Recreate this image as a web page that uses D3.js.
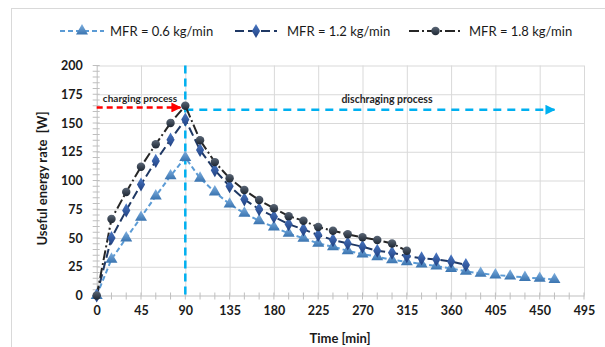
<!DOCTYPE html>
<html>
<head>
<meta charset="utf-8">
<script src="https://cdn.jsdelivr.net/npm/d3@7/dist/d3.min.js"></script>
<style>
  html, body { margin: 0; padding: 0; background: #ffffff; }
  svg { display: block; font-family: Lato, "Open Sans", sans-serif; }
</style>
</head>
<body>
<svg id="chart" width="605" height="347"></svg>
<script>
// Time axis (min) for each series, sampled every 15 min
const timeLow  = d3.range(0, 466, 15);   // 0 .. 465
const timeMid  = d3.range(0, 376, 15);   // 0 .. 375
const timeHigh = d3.range(0, 316, 15);   // 0 .. 315

// Useful energy rate [W]
const rateLow = [0, 31.5, 50, 68, 86.5, 104, 120,
  102, 90, 79.5, 71.5, 65, 59.5, 54, 49.7, 45.3,
  42.4, 38.9, 36, 33.7, 31, 29.3, 27.3, 25.6, 23.5,
  21, 19.2, 17.8, 16.9, 15.7, 14.9, 13.8];
const rateMid = [0, 50, 74, 96.5, 117, 135.5, 153,
  126.5, 109, 95, 83.6, 75, 68.5, 62, 57.5, 52.6,
  48.2, 45.3, 42.4, 38.9, 37.2, 34.3, 32.3, 31.4, 29.6,
  26.5];
const rateHigh = [0, 66.5, 90, 112, 131.5, 150, 165,
  135, 116, 102, 91.7, 83, 75.8, 69, 65, 59.5,
  56.3, 53.2, 50.6, 48.2, 45.3, 38.9];

const seriesNames = ["MFR = 0.6 kg/min", "MFR = 1.2 kg/min", "MFR = 1.8 kg/min"];
const xTicks = d3.range(0, 496, 45);
const yTicks = d3.range(0, 201, 25);

// Process annotations (time in min, rate in W)
const chargeEnd = 90;
const chargeArrow = { from: 0, to: 85, level: 163.5 };
const dischargeArrow = { from: 90, to: 465, level: 161.5 };

const svg = d3.select("#chart");

// outer chart frame
svg.append("rect")
  .attr("x", 11.5).attr("y", 8.5).attr("width", 620).attr("height", 360)
  .attr("fill", "none").attr("stroke", "#d9d9d9");

const x = d3.scaleLinear().domain([0, 495]).range([96.7, 584]);
const y = d3.scaleLinear().domain([0, 200]).range([295.5, 65.5]);

const defs = svg.append("defs");
function grad(id, c1, c2) {
  const g = defs.append("linearGradient").attr("id", id)
    .attr("x1", 0).attr("y1", 0).attr("x2", 0).attr("y2", 1);
  g.append("stop").attr("offset", "0%").attr("stop-color", c1);
  g.append("stop").attr("offset", "100%").attr("stop-color", c2);
}
grad("gTri", "#7fb0e0", "#3a74b0");
grad("gDia", "#4a78c4", "#1f3f80");
grad("gCir", "#5a6676", "#1e2733");

function arrowMarker(id, color) {
  defs.append("marker").attr("id", id)
    .attr("viewBox", "0 0 10 10").attr("refX", 9).attr("refY", 5)
    .attr("markerWidth", 4).attr("markerHeight", 4)
    .attr("orient", "auto")
    .append("path").attr("d", "M0,0 L10,5 L0,10 Z").attr("fill", color);
}
arrowMarker("arrRed", "#ff0000");
arrowMarker("arrCyan", "#00b0f0");

// gridlines
const gridColor = "#d9d9d9";
svg.append("g")
  .attr("transform", `translate(0,${y(0)})`)
  .call(d3.axisBottom(x).tickValues(xTicks.slice(1)).tickSize(-(y(0) - y(200))).tickFormat(""))
  .call(g => g.select(".domain").remove())
  .call(g => g.selectAll("line").attr("stroke", gridColor).attr("stroke-width", 1));
svg.append("g")
  .attr("transform", `translate(${x(0)},0)`)
  .call(d3.axisLeft(y).tickValues(yTicks.slice(1)).tickSize(-(x(495) - x(0))).tickFormat(""))
  .call(g => g.select(".domain").remove())
  .call(g => g.selectAll("line").attr("stroke", gridColor).attr("stroke-width", 1));

// minor ticks crossing the axes
const axisColor = "#bfbfbf";
svg.append("g")
  .selectAll("line").data(d3.range(0, 496, 15)).join("line")
  .attr("x1", d => x(d)).attr("x2", d => x(d))
  .attr("y1", y(0) - 3).attr("y2", y(0) + 4)
  .attr("stroke", axisColor);
svg.append("g")
  .selectAll("line").data(d3.range(0, 201, 5)).join("line")
  .attr("x1", x(0) - 4).attr("x2", x(0) + 3)
  .attr("y1", d => y(d)).attr("y2", d => y(d))
  .attr("stroke", axisColor);

// axis lines and labels
svg.append("g")
  .attr("transform", `translate(0,${y(0)})`)
  .call(d3.axisBottom(x).tickValues(xTicks).tickSize(0).tickPadding(11))
  .call(g => g.select(".domain").attr("stroke", axisColor))
  .call(g => g.selectAll("text").attr("font-family", "Lato, sans-serif")
    .attr("font-size", 12.5).attr("font-weight", "bold").attr("fill", "#1a1a1a"));
svg.append("g")
  .attr("transform", `translate(${x(0)},0)`)
  .call(d3.axisLeft(y).tickValues(yTicks).tickSize(0).tickPadding(14))
  .call(g => g.select(".domain").attr("stroke", axisColor))
  .call(g => g.selectAll("text").attr("font-family", "Lato, sans-serif")
    .attr("font-size", 12.5).attr("font-weight", "bold").attr("fill", "#1a1a1a"));

// axis titles
svg.append("text")
  .attr("x", 340).attr("y", 343)
  .attr("text-anchor", "middle")
  .attr("font-size", 13).attr("font-weight", "bold").attr("fill", "#1a1a1a")
  .text("Time [min]");
svg.append("text")
  .attr("transform", `translate(47,${(y(0) + y(200)) / 2 - 2}) rotate(-90)`)
  .attr("text-anchor", "middle")
  .attr("font-size", 13).attr("font-weight", "bold").attr("fill", "#1a1a1a")
  .attr("xml:space", "preserve")
  .text("Useful energy rate  [W]");

// process annotations
svg.append("line")
  .attr("x1", x(chargeEnd)).attr("x2", x(chargeEnd))
  .attr("y1", y(200)).attr("y2", y(0))
  .attr("stroke", "#00b0f0").attr("stroke-width", 2.5)
  .attr("stroke-dasharray", "8,5");
svg.append("line")
  .attr("x1", x(dischargeArrow.from)).attr("x2", x(dischargeArrow.to))
  .attr("y1", y(dischargeArrow.level)).attr("y2", y(dischargeArrow.level))
  .attr("stroke", "#00b0f0").attr("stroke-width", 2.5)
  .attr("stroke-dasharray", "8,6")
  .attr("marker-end", "url(#arrCyan)");
svg.append("line")
  .attr("x1", x(chargeArrow.from)).attr("x2", x(chargeArrow.to))
  .attr("y1", y(chargeArrow.level)).attr("y2", y(chargeArrow.level))
  .attr("stroke", "#ff0000").attr("stroke-width", 2.5)
  .attr("stroke-dasharray", "6,4")
  .attr("marker-end", "url(#arrRed)");
svg.append("text")
  .attr("x", 140).attr("y", 102)
  .attr("text-anchor", "middle")
  .attr("font-size", 10).attr("font-weight", "bold").attr("fill", "#262626")
  .text("charging process");
svg.append("text")
  .attr("x", 387).attr("y", 103)
  .attr("text-anchor", "middle")
  .attr("font-size", 10.5).attr("font-weight", "bold").attr("fill", "#262626")
  .text("dischraging process");

// series
const series = [
  { name: seriesNames[0], t: timeLow,  v: rateLow,  line: "#5b9bd5", dash: "5,3",       shape: "tri" },
  { name: seriesNames[1], t: timeMid,  v: rateMid,  line: "#1f3864", dash: "9,4",       shape: "dia" },
  { name: seriesNames[2], t: timeHigh, v: rateHigh, line: "#262626", dash: "10,3,2,3",  shape: "cir" }
];

const symbolFor = {
  tri: { type: d3.symbolTriangle, size: 62, fill: "url(#gTri)" },
  dia: { type: d3.symbolDiamond,  size: 58, fill: "url(#gDia)" },
  cir: { type: d3.symbolCircle,   size: 56, fill: "url(#gCir)" }
};

const lineGen = d3.line().x(d => x(d[0])).y(d => y(d[1]));

series.forEach(s => {
  const pts = s.t.map((t, i) => [t, s.v[i]]);
  svg.append("path")
    .datum(pts)
    .attr("d", lineGen)
    .attr("fill", "none")
    .attr("stroke", s.line).attr("stroke-width", 2)
    .attr("stroke-dasharray", s.dash);
});
series.forEach(s => {
  const pts = s.t.map((t, i) => [t, s.v[i]]);
  const sym = symbolFor[s.shape];
  svg.append("g").selectAll("path").data(pts).join("path")
    .attr("transform", d => `translate(${x(d[0])},${y(d[1])})`)
    .attr("d", d3.symbol().type(sym.type).size(sym.size))
    .attr("fill", sym.fill);
});

// legend
const legendY = 31;
const legendItems = [
  { x0: 60,  x1: 104, tx: 110 },
  { x0: 235, x1: 277, tx: 287 },
  { x0: 409, x1: 462, tx: 469 }
];
series.forEach((s, i) => {
  const L = legendItems[i];
  const g = svg.append("g");
  g.append("line")
    .attr("x1", L.x0).attr("x2", L.x1)
    .attr("y1", legendY).attr("y2", legendY)
    .attr("stroke", s.line).attr("stroke-width", 2)
    .attr("stroke-dasharray", s.dash);
  const sym = symbolFor[s.shape];
  g.append("path")
    .attr("transform", `translate(${(L.x0 + L.x1) / 2},${legendY})`)
    .attr("d", d3.symbol().type(sym.type).size(sym.size))
    .attr("fill", sym.fill);
  g.append("text")
    .attr("x", L.tx).attr("y", legendY + 4.5)
    .attr("font-size", 13).attr("fill", "#1a1a1a")
    .text(s.name);
});
</script>
</body>
</html>
